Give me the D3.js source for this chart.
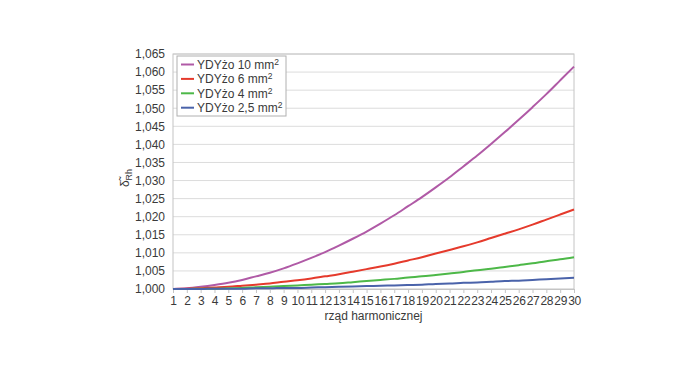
<!DOCTYPE html>
<html><head><meta charset="utf-8">
<script src="https://cdn.jsdelivr.net/npm/d3@7"></script>
<style>body{margin:0;background:#fff;}svg{display:block;font-family:"Liberation Sans",Arial,sans-serif;}</style>
</head><body><svg id="c" width="700" height="367"></svg>
<script>
const harmonics = d3.range(1, 31);
const yTicks = [1.000,1.005,1.010,1.015,1.020,1.025,1.030,1.035,1.040,1.045,1.050,1.055,1.060,1.065];
const seriesNames = ["YDYżo 10 mm²","YDYżo 6 mm²","YDYżo 4 mm²","YDYżo 2,5 mm²"];
const colors = ["#b05aa6","#e53a2c","#4db848","#4a63aa"];
const s10 = [1.0000,1.0002,1.0006,1.0011,1.0017,1.0025,1.0035,1.0045,1.0057,1.0071,1.0086,1.0102,1.0120,1.0139,1.0159,1.0181,1.0204,1.0229,1.0254,1.0281,1.0309,1.0339,1.0369,1.0401,1.0434,1.0468,1.0503,1.0539,1.0577,1.0615];
const s6 = [1.0000,1.0001,1.0002,1.0004,1.0006,1.0009,1.0012,1.0015,1.0020,1.0024,1.0029,1.0035,1.0041,1.0048,1.0055,1.0062,1.0070,1.0079,1.0088,1.0098,1.0108,1.0118,1.0129,1.0141,1.0153,1.0165,1.0178,1.0192,1.0206,1.0220];
const s4 = [1.0000,1.0000,1.0001,1.0001,1.0002,1.0003,1.0005,1.0006,1.0008,1.0010,1.0012,1.0014,1.0016,1.0019,1.0022,1.0025,1.0028,1.0032,1.0035,1.0039,1.0043,1.0047,1.0052,1.0056,1.0061,1.0066,1.0071,1.0077,1.0082,1.0088];
const s25 = [1.0000,1.0000,1.0000,1.0001,1.0001,1.0001,1.0002,1.0002,1.0003,1.0003,1.0004,1.0005,1.0006,1.0007,1.0008,1.0009,1.0010,1.0011,1.0012,1.0014,1.0015,1.0017,1.0018,1.0020,1.0022,1.0023,1.0025,1.0027,1.0029,1.0031];
const allSeries = [s10, s6, s4, s25];

const svg = d3.select("#c");
const L = 173, R = 574, T = 54, B = 289;
const x = d3.scaleLinear().domain([1,30]).range([L,R]);
const y = d3.scaleLinear().domain([1.000,1.065]).range([B,T]);
const fmt = d => d3.format(".3f")(d).replace(".", ",");
const txt = "#3a3a3a";

svg.append("g").selectAll("line").data(yTicks.slice(1)).join("line")
  .attr("x1", L).attr("x2", R).attr("y1", d=>y(d)).attr("y2", d=>y(d))
  .attr("stroke", "#dcdcdc").attr("stroke-width", 1);
svg.append("rect").attr("x", L).attr("y", T).attr("width", R-L).attr("height", B-T)
  .attr("fill","none").attr("stroke","#c4c4c4").attr("stroke-width",1);

const ya = svg.append("g").attr("transform", `translate(${L},0)`)
  .call(d3.axisLeft(y).tickValues(yTicks).tickFormat(fmt).tickSize(0).tickPadding(8));
ya.select(".domain").remove();
ya.selectAll("text").attr("fill", txt).style("font-size","12px");

const xa = svg.append("g").attr("transform", `translate(0,${B})`)
  .call(d3.axisBottom(x).tickValues(harmonics).tickFormat(d3.format("d")).tickSize(4).tickPadding(3));
xa.select(".domain").attr("stroke","#c4c4c4");
xa.selectAll(".tick line").attr("stroke","#c4c4c4");
xa.selectAll("text").attr("fill", txt).style("font-size","12px").style("letter-spacing","-0.3px");

const line = d3.line().x((d,i)=>x(harmonics[i])).y(d=>y(d)).curve(d3.curveMonotoneX);
svg.append("g").selectAll("path").data(allSeries).join("path")
  .attr("d", d=>line(d)).attr("fill","none")
  .attr("stroke", (d,i)=>colors[i]).attr("stroke-width", 2);

svg.append("text").attr("x", (L+R)/2).attr("y", 320).attr("text-anchor","middle")
  .attr("fill", txt).style("font-size","12px").text("rząd harmonicznej");
const yt = svg.append("text").attr("transform","translate(129,178) rotate(-90)")
  .attr("text-anchor","middle").attr("fill", txt).style("font-size","12px");
yt.append("tspan").text("δ̃");
yt.append("tspan").attr("dy", 3).style("font-size","9px").text("Rh");

const lg = svg.append("g");
lg.append("rect").attr("x",177).attr("y",56).attr("width",109).attr("height",60)
  .attr("fill","#fff").attr("stroke","#b0b0b0").attr("stroke-width",1);
seriesNames.forEach((n,i)=>{
  const yy = 64.5 + i*14.4;
  lg.append("line").attr("x1",181).attr("x2",194).attr("y1",yy).attr("y2",yy)
    .attr("stroke",colors[i]).attr("stroke-width",2);
  const t = lg.append("text").attr("x",197).attr("y",yy+4.5).attr("fill",txt).style("font-size","12px");
  t.append("tspan").text(n.replace("²",""));
  t.append("tspan").attr("dy",-4).style("font-size","8.5px").text("2");
});
</script></body></html>
